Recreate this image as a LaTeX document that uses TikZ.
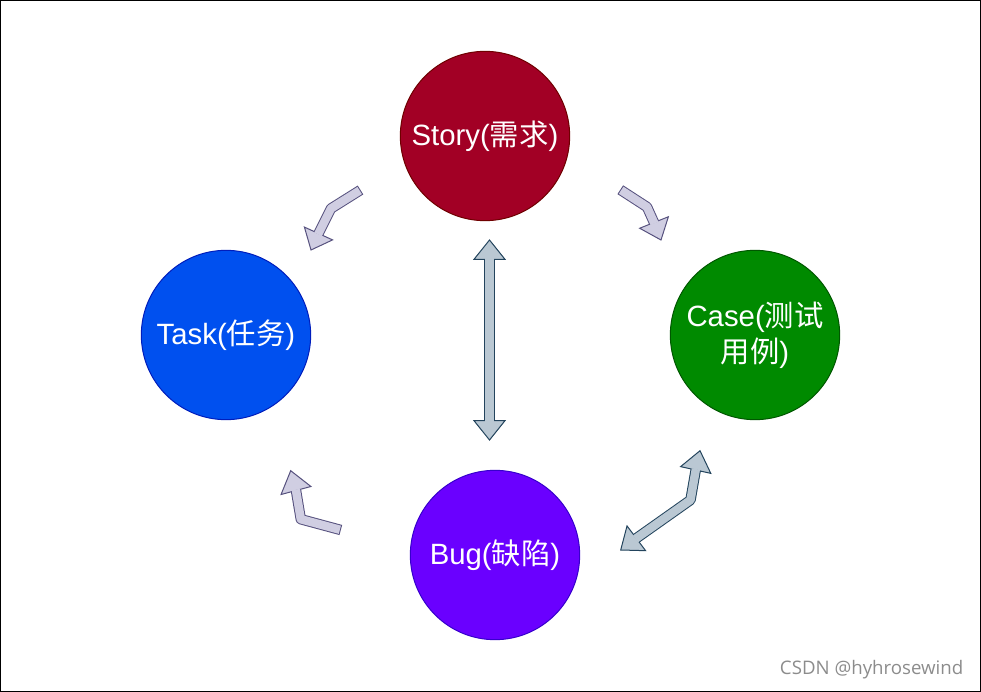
\documentclass[tikz,border=0pt]{standalone}
\usepackage{fontspec}
\setmainfont{Liberation Sans}
\newfontfamily\cjk{Noto Sans CJK SC}
\newfontfamily\markfont{Open Sans}
\usepackage{tikz}
\usetikzlibrary{calc}
\definecolor{storyfill}{HTML}{A20025}
\definecolor{storyline}{HTML}{6F0000}
\definecolor{taskfill}{HTML}{0050EF}
\definecolor{taskline}{HTML}{001DBC}
\definecolor{casefill}{HTML}{008A00}
\definecolor{caseline}{HTML}{005700}
\definecolor{bugfill}{HTML}{6A00FF}
\definecolor{bugline}{HTML}{3700CC}
\definecolor{lavfill}{HTML}{D0CEE2}
\definecolor{lavline}{HTML}{56517E}
\definecolor{slatefill}{HTML}{BAC8D3}
\definecolor{slateline}{HTML}{23445D}

\begin{document}
\begin{tikzpicture}[x=0.75pt,y=-0.75pt,
    ball/.style={circle, minimum size=127pt, inner sep=0pt, line width=0.75pt,
        text=white, align=center, font=\fontsize{22}{27}\selectfont}]
        \useasboundingbox (0,0) rectangle (981,692);
        \draw[line width=0.75pt] (0.5,0.5) rectangle (980.5,691.5);
        \node[ball, fill=storyfill, draw=storyline] (story) at (485,136) {Story({\cjk 需求})};
        \node[ball, fill=taskfill, draw=taskline] (task) at (226,335) {Task({\cjk 任务})};
        \node[ball, fill=casefill, draw=caseline] (case) at (755,335) {Case({\cjk 测试}\\{\cjk 用例})};
        \node[ball, fill=bugfill, draw=bugline] (bug) at (495,555) {Bug({\cjk 缺陷})};
        % one-way arrows: tail, bend, neck, tip
        \coordinate (st-a) at (360.5,190);  \coordinate (st-b) at (331,208.5);
        \coordinate (st-c) at (318.5,233.5); \coordinate (st-d) at (311,250);
        \coordinate (sc-a) at (620.3,189.7); \coordinate (sc-b) at (647,207);
        \coordinate (sc-c) at (654,222.5);   \coordinate (sc-d) at (661,240);
        \coordinate (bt-a) at (340.8,530);   \coordinate (bt-b) at (300.8,519.2);
        \coordinate (bt-c) at (296,490.5);   \coordinate (bt-d) at (290.7,470.7);
        \foreach \a/\b/\c/\d in {st-a/st-b/st-c/st-d, sc-a/sc-b/sc-c/sc-d, bt-a/bt-b/bt-c/bt-d} {
            \filldraw[fill=lavfill, draw=lavline, line width=0.75pt]
                (\d) -- ($(\c)!11.6pt!90:(\d)$) -- ($(\c)!11.6pt!-90:(\d)$) -- cycle;
            \draw[lavline, line width=7.85pt, line join=round] (\a) -- (\b) -- (\c);
            \draw[lavfill, line width=6.35pt, line join=round, shorten <=0.75pt, shorten >=-0.75pt]
                (\a) -- (\b) -- (\c);
        }
        % two-way arrows: tip, neck, bend, neck, tip
        \coordinate (sb-p) at (489.5,240);   \coordinate (sb-n) at (489.5,259.3);
        \coordinate (sb-b) at (489.5,340);
        \coordinate (sb-m) at (489.5,420.7); \coordinate (sb-q) at (489.5,440);
        \coordinate (cb-p) at (700,450.7);   \coordinate (cb-n) at (695.7,470);
        \coordinate (cb-b) at (690.5,500);
        \coordinate (cb-m) at (636.3,538.3); \coordinate (cb-q) at (620.7,550);
        \foreach \p/\n/\b/\m/\q in {sb-p/sb-n/sb-b/sb-m/sb-q, cb-p/cb-n/cb-b/cb-m/cb-q} {
            \filldraw[fill=slatefill, draw=slateline, line width=0.75pt]
                (\p) -- ($(\n)!11.6pt!90:(\p)$) -- ($(\n)!11.6pt!-90:(\p)$) -- cycle;
            \filldraw[fill=slatefill, draw=slateline, line width=0.75pt]
                (\q) -- ($(\m)!11.6pt!90:(\q)$) -- ($(\m)!11.6pt!-90:(\q)$) -- cycle;
            \draw[slateline, line width=7.85pt, line join=round] (\n) -- (\b) -- (\m);
            \draw[slatefill, line width=6.35pt, line join=round, shorten <=-0.75pt, shorten >=-0.75pt]
                (\n) -- (\b) -- (\m);
        }
        \node[anchor=east, text={rgb,255:red,140;green,140;blue,140}, font=\markfont\fontsize{14}{17}\selectfont]
            (mark) at (968,670) {CSDN @hyhrosewind};
    \end{tikzpicture}
\end{document}
